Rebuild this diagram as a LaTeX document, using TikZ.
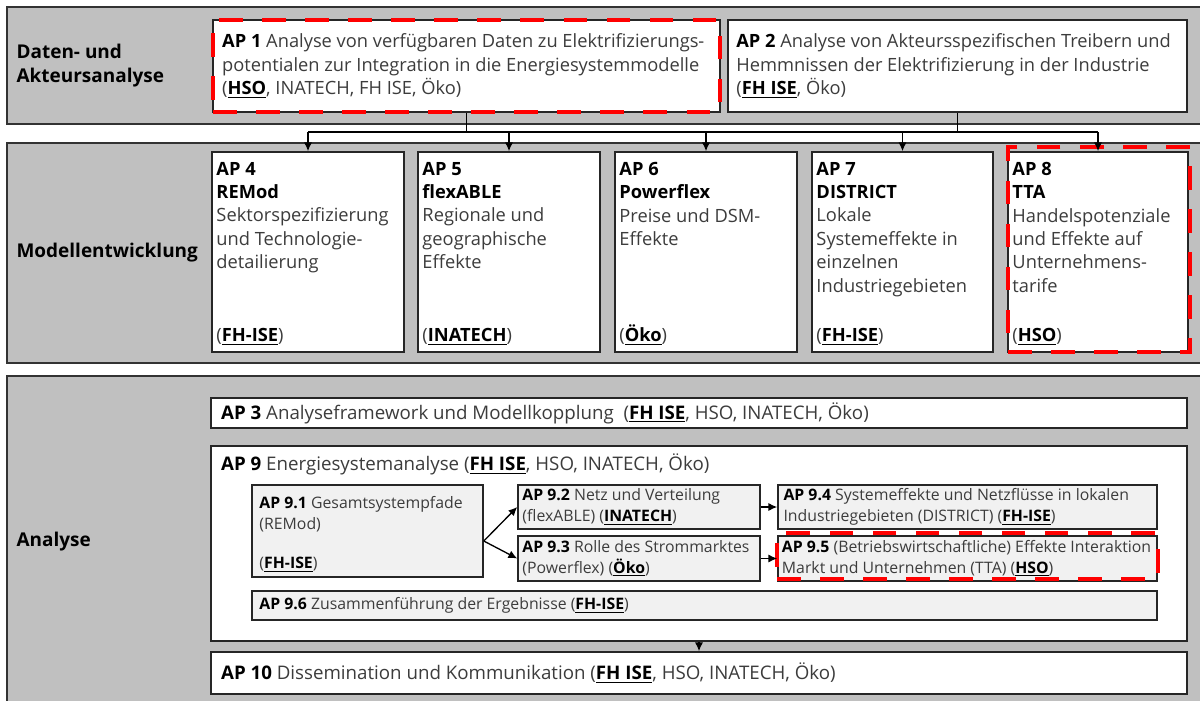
\documentclass[tikz,border=0pt]{standalone}
\usepackage{fontspec}
\setmainfont{Open Sans}
\usepackage{xcolor}
\usepackage{tikz}
\usetikzlibrary{arrows.meta,positioning,fit,calc}
\definecolor{bandgray}{HTML}{C0C0C0}
\definecolor{subgray}{HTML}{F1F1F1}
\definecolor{bodygray}{HTML}{3C3C3C}
\newcommand{\apno}[1]{\textcolor{black}{\textbf{#1}}}
\newcommand{\lead}[1]{\textcolor{black}{\underline{\textbf{#1}}}}
\tikzset{
  band/.style={draw=black!80, fill=bandgray, line width=0.9pt, inner sep=0pt},
  wpbox/.style={draw=black!85, fill=white, line width=0.9pt, inner sep=0pt},
  subbox/.style={wpbox, fill=subgray},
  hilite/.style={draw=red, line width=2.4pt, dash pattern=on 13.5pt off 11pt, inner sep=0pt},
  wptext/.style={align=left, inner sep=0pt, text=bodygray, font=\fontsize{10.4}{13.3}\selectfont},
  widetext/.style={wptext, font=\fontsize{10.65}{13.3}\selectfont},
  subtext/.style={wptext, font=\fontsize{9}{11.8}\selectfont},
  bandlabel/.style={anchor=west, align=left, inner sep=0pt, font=\bfseries\fontsize{10.8}{13.6}\selectfont},
  link/.style={line width=0.75pt},
  arr/.style={-{Latex[length=5pt,width=4.6pt]}, line width=0.75pt}
}
\begin{document}
\begin{tikzpicture}[x=0.02cm, y=-0.02cm]
\useasboundingbox (0,0) rectangle (1200,700);
\clip (0,0) rectangle (1200,700);

\node[band, fit={(7,7) (1206,124)}] (databand) {};
\node[band, fit={(7,143) (1206,363)}] (modelband) {};
\node[band, fit={(7,376) (1206,708)}] (analysisband) {};
\node[bandlabel] (datalabel) at ([xshift=5.7pt]databand.west) {Daten- und\\Akteursanalyse};
\node[bandlabel] (modellabel) at ([xshift=5.7pt]modelband.west) {Modellentwicklung};
\node[bandlabel] (analysislabel) at ([xshift=5.7pt]analysisband.west) {Analyse};

\node[wpbox, fit={(213,20) (720,112)}] (ap1) {};
\node[wpbox, fit={(728,20) (1187,112)}] (ap2) {};
\node[wpbox, fit={(212,152) (404,352)}] (ap4) {};
\node[wpbox, fit={(418,152) (600,352)}] (ap5) {};
\node[wpbox, fit={(615,152) (797,352)}] (ap6) {};
\node[wpbox, fit={(812,152) (993,352)}] (ap7) {};
\node[wpbox, fit={(1008,152) (1188,352)}] (ap8) {};
\node[wpbox, fit={(211,398) (1187,428)}] (ap3) {};
\node[wpbox, fit={(211,446) (1187,641)}] (ap9) {};
\node[subbox, fit={(252,485) (483,577)}] (ap91) {};
\node[subbox, fit={(518,485) (760,529)}] (ap92) {};
\node[subbox, fit={(518,536) (760,581)}] (ap93) {};
\node[subbox, fit={(778,485) (1157,529)}] (ap94) {};
\node[subbox, fit={(778,536) (1157,581)}] (ap95) {};
\node[subbox, fit={(252,591) (1157,620)}] (ap96) {};
\node[wpbox, fit={(211,652) (1187,694)}] (ap10) {};

\node[hilite, fit={(213,20) (720,112)}] (ap1mark) {};
\node[hilite, fit={(1008,147) (1190,352)}] (ap8mark) {};
\node[hilite, fit={(777,533) (1158,579)}] (ap95mark) {};

\node[wptext, anchor=west] (ap1text) at ([xshift=5.5pt]ap1.west) {\apno{AP 1} Analyse von verfügbaren Daten zu Elektrifizierungs-\\potentialen zur Integration in die Energiesystemmodelle\\(\lead{HSO}, INATECH,\ FH ISE, Öko)};
\node[wptext, anchor=west] (ap2text) at ([xshift=5pt]ap2.west) {\apno{AP 2} Analyse von Akteursspezifischen Treibern und\\Hemmnissen der Elektrifizierung in der Industrie\\(\lead{FH ISE}, Öko)};

\node[wptext, anchor=north west] (ap4text) at ([xshift=2.8pt, yshift=-6pt]ap4.north west) {\apno{AP 4}\\\apno{REMod}\\Sektorspezifizierung\\und Technologie-\\detailierung};
\node[wptext, anchor=north west] (ap5text) at ([xshift=2.8pt, yshift=-6pt]ap5.north west) {\apno{AP 5}\\\apno{flexABLE}\\Regionale und\\geographische\\Effekte};
\node[wptext, anchor=north west] (ap6text) at ([xshift=2.8pt, yshift=-6pt]ap6.north west) {\apno{AP 6}\\\apno{Powerflex}\\Preise und DSM-\\Effekte};
\node[wptext, anchor=north west] (ap7text) at ([xshift=2.8pt, yshift=-6pt]ap7.north west) {\apno{AP 7}\\\apno{DISTRICT}\\Lokale\\Systemeffekte in\\einzelnen\\Industriegebieten};
\node[wptext, anchor=north west] (ap8text) at ([xshift=2.8pt, yshift=-6pt]ap8.north west) {\apno{AP 8}\\\apno{TTA}\\Handelspotenziale\\und Effekte auf\\Unternehmens-\\tarife};
\node[wptext, anchor=base west] (ap4lead) at ([xshift=2.8pt, yshift=6.2pt]ap4.south west) {(\lead{FH-ISE})};
\node[wptext, anchor=base west] (ap5lead) at ([xshift=2.8pt, yshift=6.2pt]ap5.south west) {(\lead{INATECH})};
\node[wptext, anchor=base west] (ap6lead) at ([xshift=2.8pt, yshift=6.2pt]ap6.south west) {(\lead{Öko})};
\node[wptext, anchor=base west] (ap7lead) at ([xshift=2.8pt, yshift=6.2pt]ap7.south west) {(\lead{FH-ISE})};
\node[wptext, anchor=base west] (ap8lead) at ([xshift=2.8pt, yshift=6.2pt]ap8.south west) {(\lead{HSO})};

\node[widetext, anchor=west] (ap3text) at ([xshift=6pt]ap3.west) {\apno{AP 3} Analyseframework und Modellkopplung\ \ (\lead{FH ISE}, HSO, INATECH, Öko)};
\node[widetext, anchor=base west] (ap9text) at ([xshift=6pt, yshift=-14.6pt]ap9.north west) {\apno{AP 9} Energiesystemanalyse (\lead{FH ISE}, HSO, INATECH, Öko)};
\node[subtext, anchor=north west] (ap91text) at ([xshift=4.5pt, yshift=-7pt]ap91.north west) {\apno{AP 9.1} Gesamtsystempfade\\(REMod)};
\node[subtext, anchor=base west] (ap91lead) at ([xshift=4.5pt, yshift=5.1pt]ap91.south west) {(\lead{FH-ISE})};
\node[subtext, anchor=west] (ap92text) at ([xshift=2.8pt]ap92.west) {\apno{AP 9.2} Netz und Verteilung\\(flexABLE) (\lead{INATECH})};
\node[subtext, anchor=west] (ap93text) at ([xshift=2.8pt]ap93.west) {\apno{AP 9.3} Rolle des Strommarktes\\(Powerflex) (\lead{Öko})};
\node[subtext, anchor=west] (ap94text) at ([xshift=3.4pt]ap94.west) {\apno{AP 9.4} Systemeffekte und Netzflüsse in lokalen\\Industriegebieten (DISTRICT) (\lead{FH-ISE})};
\node[subtext, anchor=west] (ap95text) at ([xshift=2.5pt]ap95.west) {\apno{AP 9.5} (Betriebswirtschaftliche) Effekte Interaktion\\Markt und Unternehmen (TTA) (\lead{HSO})};
\node[subtext, anchor=west] (ap96text) at ([xshift=4.5pt]ap96.west) {\apno{AP 9.6} Zusammenführung der Ergebnisse (\lead{FH-ISE})};
\node[widetext, anchor=west] (ap10text) at ([xshift=6pt]ap10.west) {\apno{AP 10} Dissemination und Kommunikation (\lead{FH ISE}, HSO, INATECH, Öko)};

\coordinate (bus) at (0,132);
\draw[link] (ap1.south) -- (ap1.south |- bus);
\draw[link] (ap2.south) -- (ap2.south |- bus);
\draw[link] (ap4.north |- bus) -- (ap8.north |- bus);
\foreach \wp in {ap4,ap5,ap6,ap7,ap8}
  \draw[arr] (\wp.north |- bus) -- (\wp.north);

\coordinate (fork) at ($(ap91.east)+(0,10)$);
\draw[arr] (fork) -- (ap92.west);
\draw[arr] (fork) -- (ap93.west);
\draw[arr] (ap92.east) -- (ap94.west);
\draw[arr] (ap93.east) -- (ap95.west);
\draw[arr] (ap9.south) -- (ap10.north);
\end{tikzpicture}
\end{document}
